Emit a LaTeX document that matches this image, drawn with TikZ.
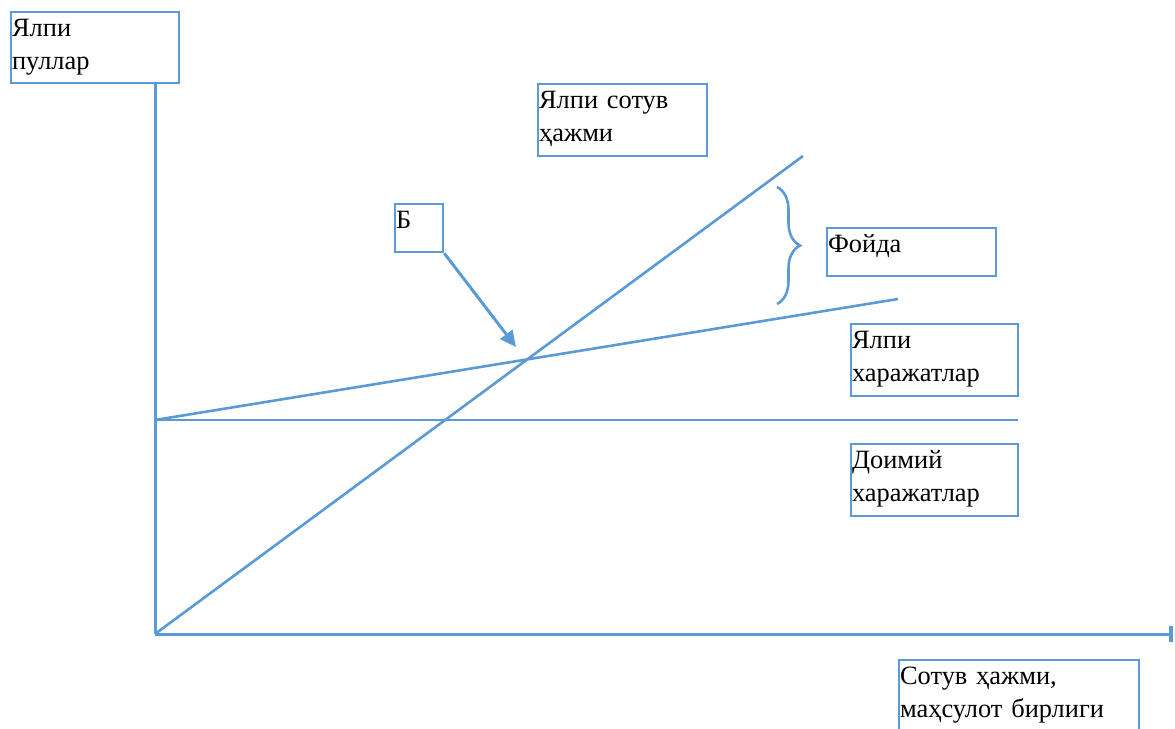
\documentclass[tikz,border=0pt]{standalone}
\usepackage{fontspec}
\setmainfont{Liberation Serif}
\usetikzlibrary{arrows.meta,decorations.pathreplacing,fit}
\definecolor{chartblue}{HTML}{5B9BD5}
\tikzset{
    label-box/.style = {draw=chartblue, line width=1.3pt, inner sep=0pt, rectangle},
    label-text/.style = {anchor=base west, inner sep=0pt, text width=118pt, align=left, font=\fontsize{13.2}{16.5}\selectfont},
    chart-line/.style = {draw=chartblue, line width=1.3pt},
}

\begin{document}
\begin{tikzpicture}[x=0.5pt, y=-0.5pt]
\clip (0,0) rectangle (1175,729);
\coordinate (origin) at (155,634);
\coordinate (x-end) at (1173,634);
\coordinate (sales-end) at (803,156);
\coordinate (fixed-start) at (155,420);
\coordinate (fixed-end) at (1018,420);
\coordinate (total-end) at (898,299);
\coordinate (break-even) at (516,347);

\node[label-box, fit={(11,12) (179,83)}] (money) {};
\node[label-text] (money-text) at ([shift={(2,26)}]money.north west) {Ялпи\\пуллар};
\node[label-box, fit={(538,84) (707,156)}] (sales) {};
\node[label-text] (sales-text) at ([shift={(2,26)}]sales.north west) {Ялпи сотув\\ҳажми};
\node[label-box, fit={(395,204) (443,252)}] (point) {};
\node[label-text] (point-text) at ([shift={(2,26)}]point.north west) {Б};
\node[label-box, fit={(827,228) (996,276)}] (profit) {};
\node[label-text] (profit-text) at ([shift={(2,26)}]profit.north west) {Фойда};
\node[label-box, fit={(851,324) (1018,396)}] (total) {};
\node[label-text] (total-text) at ([shift={(2,26)}]total.north west) {Ялпи\\харажатлар};
\node[label-box, fit={(851,444) (1018,516)}] (fixed) {};
\node[label-text] (fixed-text) at ([shift={(2,26)}]fixed.north west) {Доимий\\харажатлар};
\node[label-box, fit={(899,660) (1139,745)}] (volume) {};
\node[label-text] (volume-text) at ([shift={(2,26)}]volume.north west) {Сотув ҳажми,\\маҳсулот бирлиги};

\draw[chart-line, line width=1.5pt] (origin) -- (origin |- money.south);
\draw[chart-line, line width=1.5pt, -{Bar[width=8pt, line width=1.8pt]}] (origin) -- (x-end);
\draw[chart-line] (origin) -- (sales-end);
\draw[chart-line] (fixed-start) -- (total-end);
\draw[chart-line] (fixed-start) -- (fixed-end);
\draw[chart-line, line width=1.5pt, -{Triangle[length=8pt, width=7.5pt]}] (point.south east) -- (break-even);
\draw[chart-line, decorate, decoration={brace, amplitude=11.5pt}] (777,187) -- (777,304);
\end{tikzpicture}
\end{document}
